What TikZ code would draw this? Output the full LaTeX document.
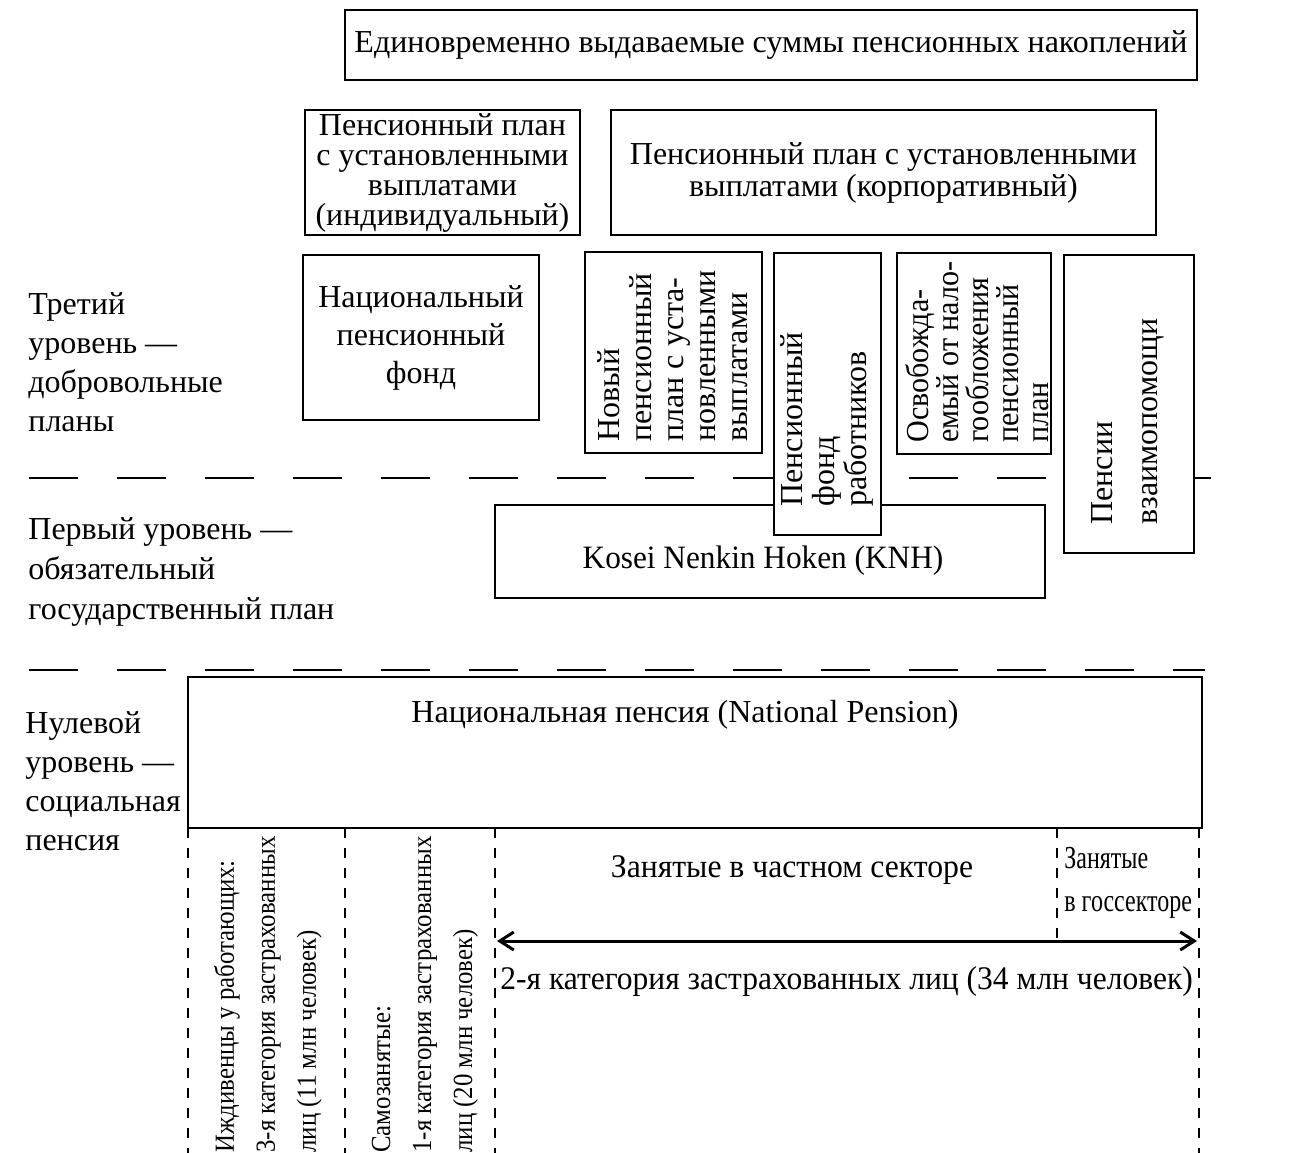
\documentclass[tikz,border=0pt]{standalone}
\usepackage{fontspec}
\setmainfont{Liberation Serif}
\newfontfamily\cnA[FakeStretch=0.96]{Liberation Serif}
\newfontfamily\cnB[FakeStretch=0.75]{Liberation Serif}
\newfontfamily\cnC[FakeStretch=0.955]{Liberation Serif}
\newfontfamily\cnD[FakeStretch=0.9]{Liberation Serif}
\newfontfamily\cnE[FakeStretch=0.94]{Liberation Serif}
\usetikzlibrary{arrows.meta}
\begin{document}
\begin{tikzpicture}[x=0.5pt,y=-0.5pt,
  font=\fontsize{16}{16}\selectfont,
  box/.style={draw, line width=1pt, fill=white, inner sep=0pt, align=center},
  vtext/.style={rotate=90, align=left, inner sep=0pt, anchor=west},
  lbl/.style={align=left, inner sep=0pt, anchor=north west},
  hdash/.style={line width=1.2pt, dash pattern=on 24.5pt off 19.5pt},
  vdash/.style={line width=1pt, dash pattern=on 5pt off 5pt},
  arr/.style={line width=1.5pt, {Straight Barb[length=7pt,width=9pt]}-{Straight Barb[length=7pt,width=9pt]}}
]
\useasboundingbox (0,0) rectangle (1289,1152);
\clip (0,0) rectangle (1289,1152);

% dashed level separators
\coordinate (d1a) at (29,478); \coordinate (d1b) at (1211,478);
\coordinate (d2a) at (29,670); \coordinate (d2b) at (1205,670);
\draw[hdash] (d1a) -- (d1b);
\draw[hdash] (d2a) -- (d2b);

% top boxes
\node[box, minimum width=426pt, minimum height=35pt] (top) at (771,45)
  {Единовременно выдаваемые суммы пенсионных накоплений};
\node[box, minimum width=137.5pt, minimum height=62.5pt, font=\fontsize{16}{15}\selectfont] (indiv) at (442.5,172.5)
  {Пенсионный план\\с установленными\\выплатами\\(индивидуальный)};
\node[box, minimum width=272.5pt, minimum height=62.5pt] (corp) at (883.5,172.5)
  {Пенсионный план с установленными\\выплатами (корпоративный)};
\node[box, minimum width=118pt, minimum height=82.5pt, font=\fontsize{16}{19}\selectfont] (natfund) at (421,337.5)
  {Национальный\\пенсионный\\фонд};

% first level box (drawn before overlapping box)
\node[box, minimum width=275pt, minimum height=46.5pt] (knh) at (770,551.5) {};
\node[anchor=base, inner sep=0pt, font=\fontsize{16.3}{16.3}\cnA] (knhT) at (763,568) {Kosei Nenkin Hoken (KNH)};

% third level rotated boxes
\node[box, minimum width=88.5pt, minimum height=100.5pt] (newdb) at (673.5,352.5) {};
\node[vtext] (newdbT) at (673,442) {Новый\\пенсионный\\план с уста-\\новленными\\выплатами};

\node[box, minimum width=53.5pt, minimum height=141pt] (empf) at (827.5,394) {};
\node[vtext] (empfT) at (826.5,507) {Пенсионный\\фонд\\работников};

\node[box, minimum width=77pt, minimum height=100.5pt] (taxex) at (974,353.5) {};
\node[vtext, font=\fontsize{16}{15}\cnE] (taxexT) at (977,443) {Освобожда-\\емый от нало-\\гообложения\\пенсионный\\план};

\node[box, minimum width=65pt, minimum height=149pt] (mutual) at (1129,404) {};
\node[vtext, font=\fontsize{16}{22.5}\selectfont] (mutualT) at (1127.5,525) {Пенсии\\взаимопомощи};

% national pension
\node[box, minimum width=507pt, minimum height=75.5pt] (natp) at (695,752.5) {};
\node[anchor=base, inner sep=0pt] (natpT) at (685,722) {Национальная пенсия (National Pension)};

% left level labels
\node[lbl, font=\fontsize{16}{19.5}\selectfont] (lv3) at (28,292) {Третий\\уровень —\\добровольные\\планы};
\node[lbl, font=\fontsize{16}{20}\selectfont] (lv1) at (28,517) {Первый уровень —\\обязательный\\государственный план};
\node[lbl, font=\fontsize{16}{19.5}\selectfont] (lv0) at (25,711) {Нулевой\\уровень —\\социальная\\пенсия};

% vertical dashed dividers below national pension
\coordinate (v1a) at (188,828); \coordinate (v1b) at (188,1160);
\coordinate (v2a) at (345,828); \coordinate (v2b) at (345,1160);
\coordinate (v3a) at (495,828); \coordinate (v3b) at (495,1160);
\coordinate (v4a) at (1057,828); \coordinate (v4b) at (1057,943);
\coordinate (v5a) at (1199,828); \coordinate (v5b) at (1199,1160);
\draw[vdash] (v1a) -- (v1b);
\draw[vdash] (v2a) -- (v2b);
\draw[vdash] (v3a) -- (v3b);
\draw[vdash] (v4a) -- (v4b);
\draw[vdash] (v5a) -- (v5b);

% arrow
\coordinate (arL) at (497,941); \coordinate (arR) at (1197,941);
\draw[arr] (arL) -- (arR);

% bottom texts
\node[anchor=base, inner sep=0pt, font=\fontsize{16.5}{16.5}\cnA] (priv) at (792,877) {Занятые в частном секторе};
\node[anchor=base west, inner sep=0pt, font=\fontsize{16}{16}\cnB] (gov1) at (1064,868) {Занятые};
\node[anchor=base west, inner sep=0pt, font=\fontsize{16}{16}\cnB] (gov2) at (1064,911) {в госсекторе};
\node[anchor=base west, inner sep=0pt, font=\fontsize{16.5}{16.5}\cnC] (cat2) at (500,989) {2-я категория застрахованных лиц (34 млн человек)};

\node[vtext, font=\fontsize{13.8}{20.5}\cnD] (col1) at (268,1153) {Иждивенцы у работающих:\\3-я категория застрахованных\\лиц (11 млн человек)};
\node[vtext, font=\fontsize{13.8}{20.5}\cnD] (col2) at (425,1153) {Самозанятые:\\1-я категория застрахованных\\лиц (20 млн человек)};
\end{tikzpicture}
\end{document}
